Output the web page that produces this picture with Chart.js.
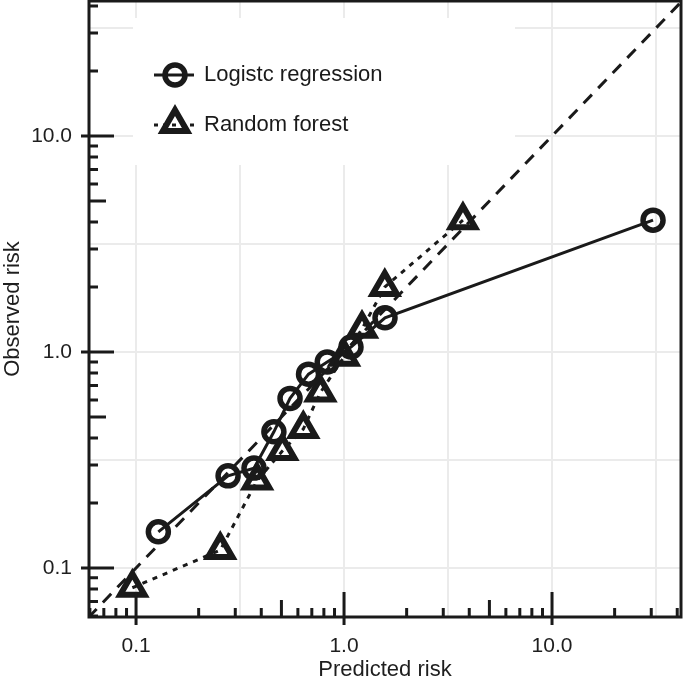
<!DOCTYPE html>
<html>
<head>
<meta charset="utf-8">
<script src="https://cdn.jsdelivr.net/npm/chart.js@4/dist/chart.umd.min.js"></script>
<style>
  html, body { margin: 0; padding: 0; background: #fff; }
  #wrap { width: 685px; height: 683px; }
</style>
</head>
<body>
<div id="wrap"><canvas id="calib" width="685" height="683"></canvas></div>
<script>
// Calibration data
const lrPredicted = [0.128, 0.277, 0.369, 0.46, 0.55, 0.675, 0.83, 1.08, 1.574, 30.6];
const lrObserved  = [0.147, 0.267, 0.29, 0.427, 0.61, 0.79, 0.90, 1.055, 1.44, 4.08];
const rfPredicted = [0.096, 0.254, 0.382, 0.505, 0.637, 0.77, 1.0, 1.22, 1.57, 3.73];
const rfObserved  = [0.081, 0.121, 0.254, 0.348, 0.44, 0.65, 0.95, 1.28, 2.0, 4.08];
const seriesNames = ["Logistc regression", "Random forest"];

// axes
const xRange = [0.0594, 41.7];
const yRange = [0.0593, 42.2];
const refLine = [0.01, 100];
const gridValues = [0.1, 0.316, 1, 3.16, 10, 31.6];
const decadeLabels = { 0.1: "0.1", 1: "1.0", 10: "10.0" };
const decades = [0.01, 0.1, 1, 10, 100];
const shortSteps = [2, 3, 4, 6, 7, 8, 9];
const midSteps = [5];

const ink = "#1a1a1a";
const font = "Liberation Sans, Arial, sans-serif";

const toPoints = (xs, ys) => xs.map((x, i) => ({ x: x, y: ys[i] }));

// legend box + axes with inside ticks
const frame = {
  id: "frame",
  beforeDatasetsDraw(chart) {
    const ctx = chart.ctx;
    ctx.save();
    ctx.fillStyle = "#fff";
    ctx.fillRect(133, 18, 382, 147);
    ctx.restore();
  },
  afterDatasetsDraw(chart) {
    const ctx = chart.ctx;
    const a = chart.chartArea;
    const xs = chart.scales.x, ys = chart.scales.y;
    ctx.save();
    ctx.strokeStyle = ink;
    ctx.lineWidth = 3;
    ctx.lineCap = "butt";
    ctx.strokeRect(a.left, a.top, a.right - a.left, a.bottom - a.top);

    const marks = [];
    decades.forEach(d => {
      marks.push([d, 25, 8]);
      midSteps.forEach(s => marks.push([d * s, 17, 0]));
      shortSteps.forEach(s => marks.push([d * s, 9, 0]));
    });
    ctx.beginPath();
    marks.forEach(([v, inLen, outLen]) => {
      if (v >= xRange[0] && v <= xRange[1]) {
        const px = xs.getPixelForValue(v);
        ctx.moveTo(px, a.bottom + outLen);
        ctx.lineTo(px, a.bottom - inLen);
      }
      if (v >= yRange[0] && v <= yRange[1]) {
        const py = ys.getPixelForValue(v);
        ctx.moveTo(a.left - outLen, py);
        ctx.lineTo(a.left + inLen, py);
      }
    });
    ctx.stroke();

    // legend
    const rows = [
      { y: 75, dash: [], style: "circle", r: 10, bw: 5.5 },
      { y: 125, dash: [4, 5], style: "triangle", r: 14, bw: 6 }
    ];
    rows.forEach((row, i) => {
      ctx.setLineDash(row.dash);
      ctx.lineWidth = 3;
      ctx.beginPath();
      ctx.moveTo(154, row.y);
      ctx.lineTo(194, row.y);
      ctx.stroke();
      ctx.setLineDash([]);
      ctx.fillStyle = "rgba(0,0,0,0)";
      ctx.strokeStyle = ink;
      ctx.lineWidth = row.bw;
      Chart.helpers.drawPoint(ctx, {
        pointStyle: row.style, radius: row.r, borderWidth: row.bw, rotation: 0
      }, 175, row.style === "triangle" ? row.y - 1 : row.y);
      ctx.fillStyle = ink;
      ctx.font = "22px " + font;
      ctx.textBaseline = "middle";
      ctx.textAlign = "left";
      ctx.fillText(seriesNames[i], 204, row.y);
    });
    ctx.restore();
  }
};

const logAxis = (range, title, pos) => ({
  type: "logarithmic",
  position: pos,
  min: range[0],
  max: range[1],
  afterBuildTicks(scale) {
    scale.ticks = gridValues.map(v => ({ value: v }));
  },
  afterFit(scale) {
    if (pos === "left") scale.width = 89;
    else scale.height = 66;
    scale.paddingTop = 0;
    scale.paddingBottom = 0;
    scale.paddingLeft = 0;
    scale.paddingRight = 0;
  },
  ticks: {
    autoSkip: false,
    maxRotation: 0,
    padding: 17,
    color: "#1e1e1e",
    font: { family: font, size: 21 },
    callback: v => decadeLabels[v] || ""
  },
  grid: {
    color: "#ebebeb",
    lineWidth: 2,
    drawTicks: false
  },
  border: { display: false },
  title: {
    display: true,
    text: title,
    color: "#1e1e1e",
    font: { family: font, size: 22 },
    padding: { top: 0, bottom: 0 }
  }
});

new Chart(document.getElementById("calib"), {
  type: "scatter",
  data: {
    datasets: [
      {
        label: seriesNames[0],
        data: toPoints(lrPredicted, lrObserved),
        showLine: true,
        borderColor: ink,
        borderWidth: 3,
        pointStyle: "circle",
        pointRadius: 10,
        pointBorderWidth: 5.5,
        pointBorderColor: ink,
        pointBackgroundColor: "rgba(0,0,0,0)",
        order: 1
      },
      {
        label: seriesNames[1],
        data: toPoints(rfPredicted, rfObserved),
        showLine: true,
        borderColor: ink,
        borderWidth: 3,
        borderDash: [5, 6],
        pointStyle: "triangle",
        pointRadius: 14,
        pointBorderWidth: 6,
        pointBorderColor: ink,
        pointBackgroundColor: "rgba(0,0,0,0)",
        order: 2
      },
      {
        label: "reference",
        data: toPoints(refLine, refLine),
        showLine: true,
        borderColor: ink,
        borderWidth: 3,
        borderDash: [12, 9],
        pointRadius: 0,
        order: 3
      }
    ]
  },
  options: {
    responsive: false,
    animation: false,
    devicePixelRatio: 1,
    layout: { autoPadding: false, padding: { top: 1, right: 4, left: 0, bottom: 0 } },
    plugins: {
      legend: { display: false },
      tooltip: { enabled: false }
    },
    scales: {
      x: logAxis(xRange, "Predicted risk", "bottom"),
      y: logAxis(yRange, "Observed risk", "left")
    }
  },
  plugins: [frame]
});
</script>
</body>
</html>
